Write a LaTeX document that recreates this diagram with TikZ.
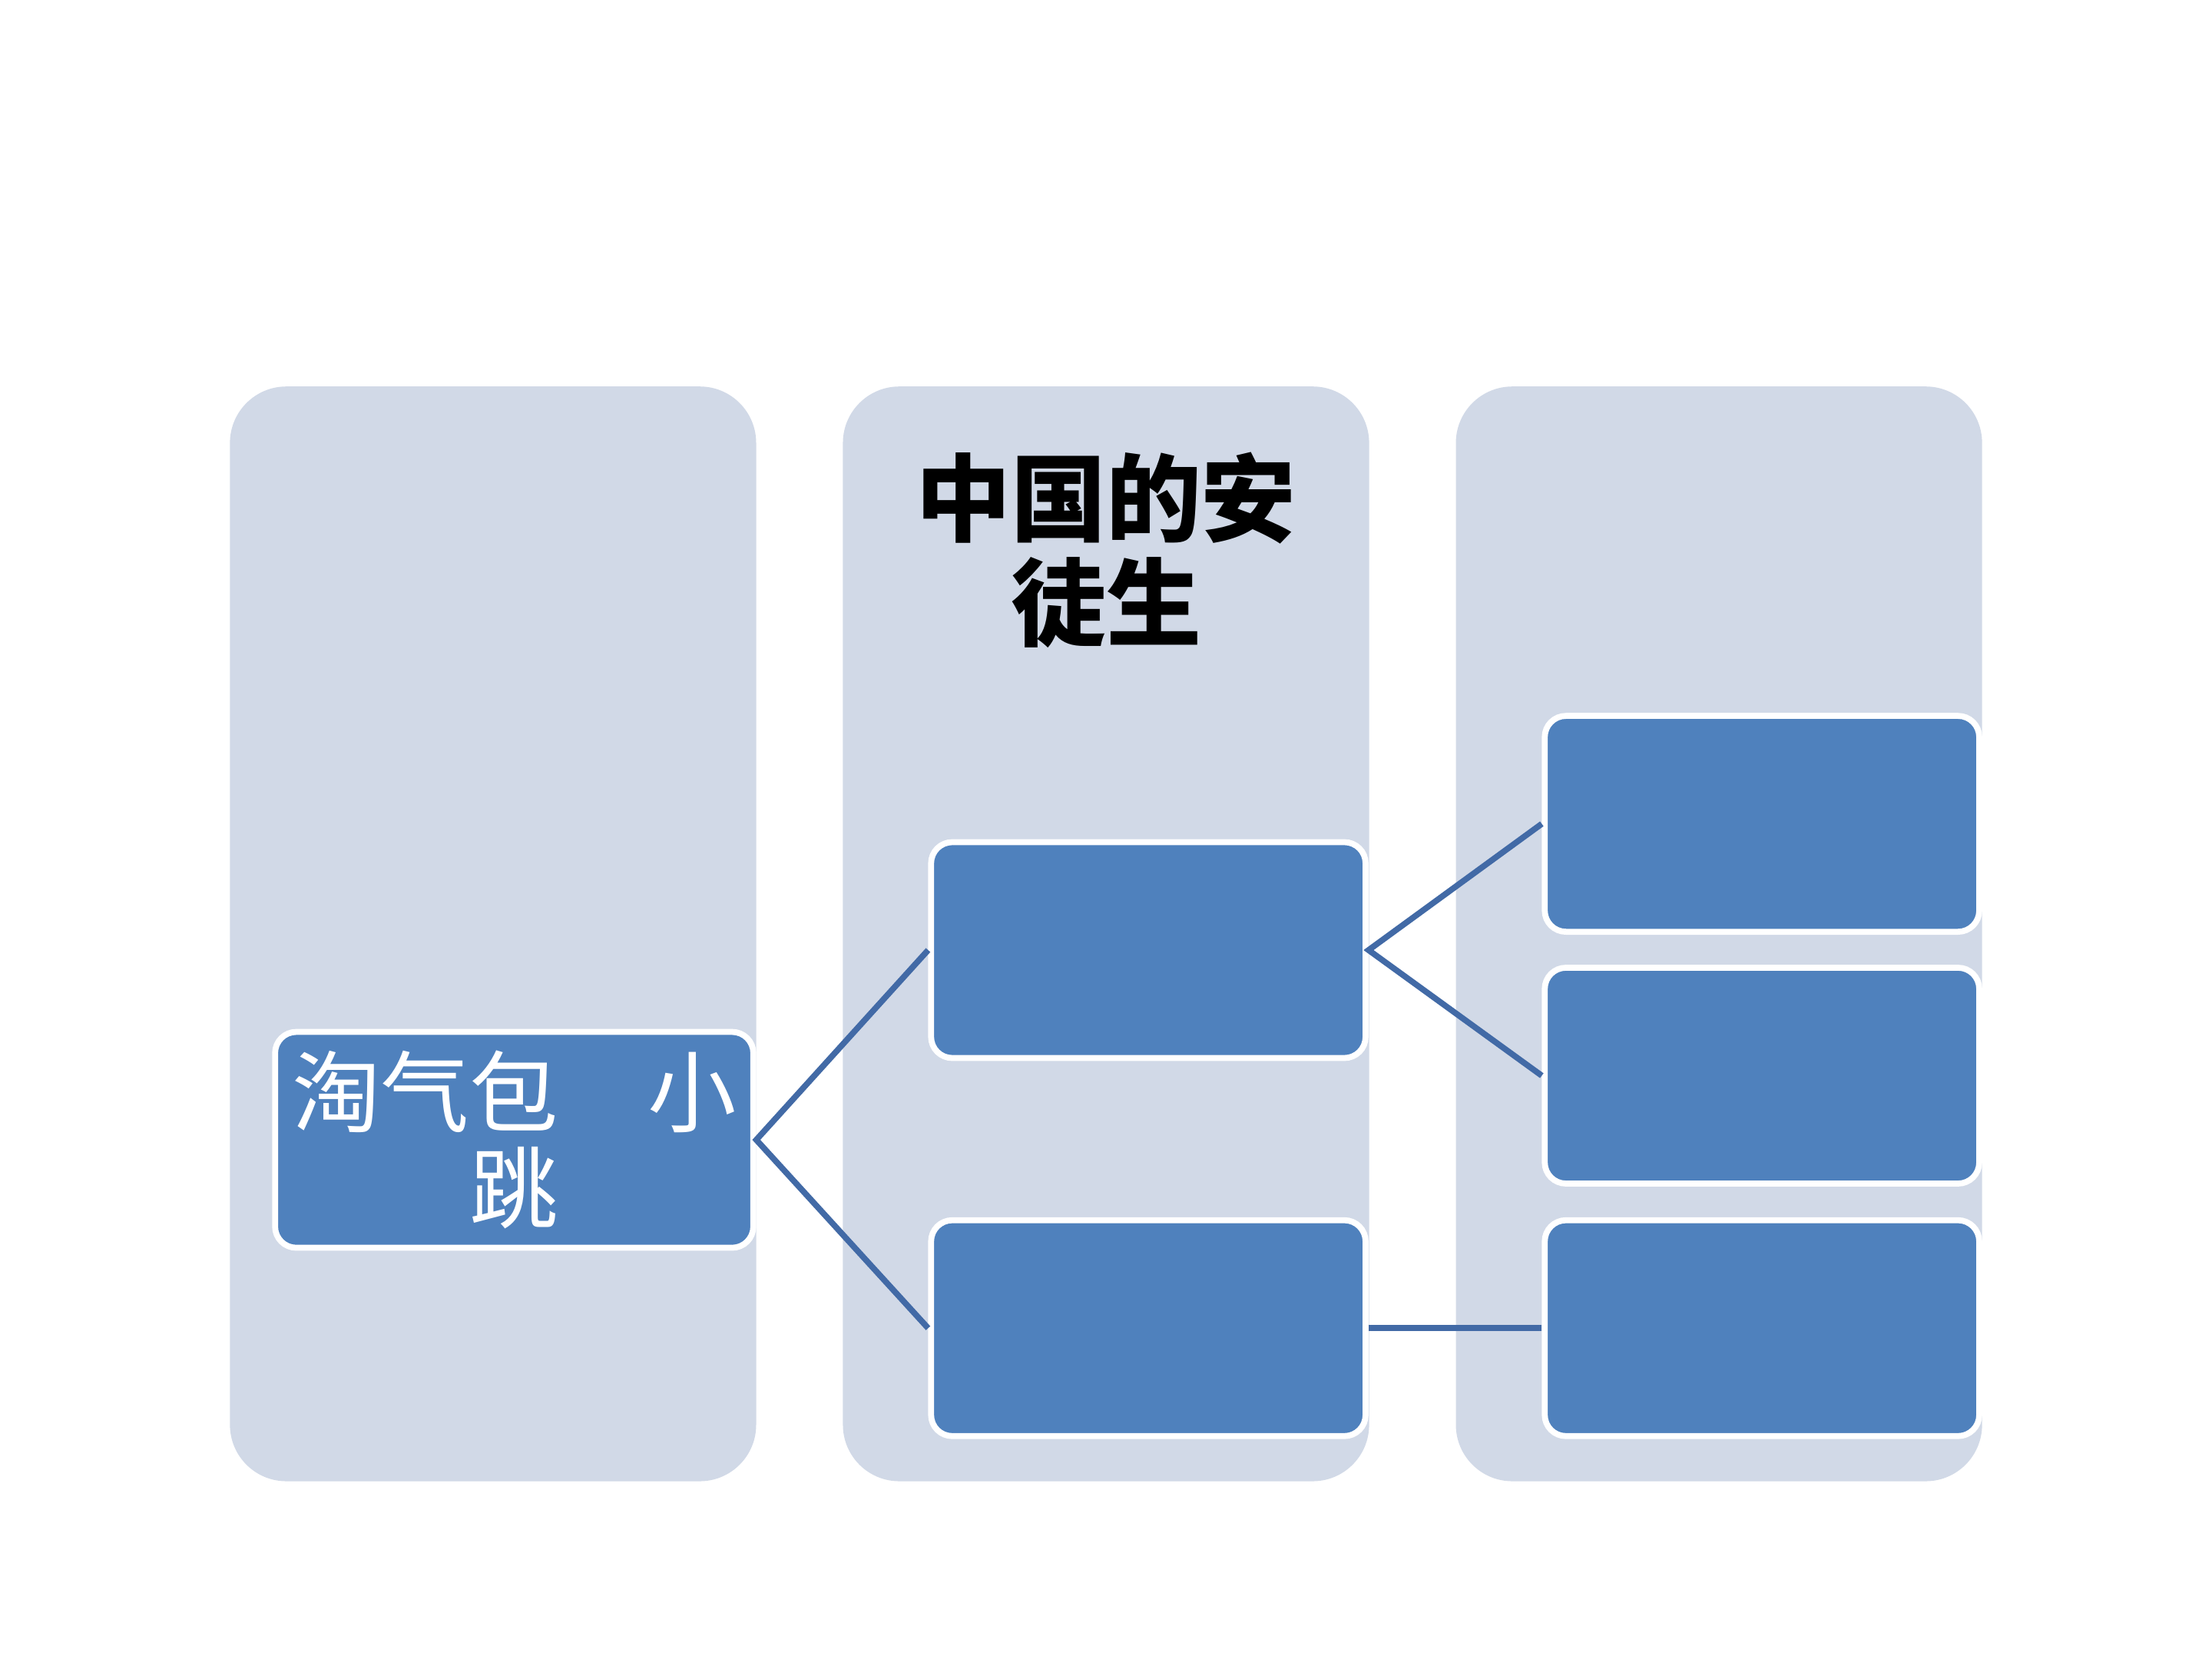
\documentclass[tikz,border=0pt]{standalone}
\usepackage{fontspec}
\newfontfamily\cjk{Noto Sans CJK SC}
\definecolor{colbg}{RGB}{209,217,231}
\definecolor{boxfill}{RGB}{79,129,189}
\definecolor{linkblue}{RGB}{66,106,166}
\tikzset{
  column/.style={fill=colbg, rounded corners=0.4cm, minimum width=3.73cm, minimum height=7.76cm, inner sep=0pt},
  item/.style={fill=boxfill, draw=white, line width=1.2pt, rounded corners=0.15cm, minimum width=3.08cm, minimum height=1.53cm, inner sep=0pt},
  link/.style={draw=linkblue, line width=1.2pt}
}
\begin{document}
\begin{tikzpicture}
\useasboundingbox[fill=white] (0,0) rectangle (15.68,11.76);
% columns
\node[column] (colA) at (3.495,5.14) {};
\node[column] (colB) at (7.84,5.14) {};
\node[column] (colC) at (12.185,5.14) {};
\node[font=\cjk\bfseries\fontsize{19.2}{21.2}\selectfont, align=center] (title) at (7.84,7.86) {中国的安\\徒生};
% boxes
\node[item, minimum width=3.39cm, text=white, align=center, font=\cjk\fontsize{17.9}{19.4}\selectfont] (root) at (3.645,3.68) {\makebox[3.15cm]{淘气包\hfill 小}\\跳};
\node[item] (midA) at (8.14,5.025) {};
\node[item] (midB) at (8.14,2.345) {};
\node[item] (leafA) at (12.49,5.92) {};
\node[item] (leafB) at (12.49,4.135) {};
\node[item] (leafC) at (12.49,2.345) {};
% links
\draw[link] (midA.west) -- (root.east) -- (midB.west);
\draw[link] (leafA.west) -- (midA.east) -- (leafB.west);
\draw[link] (midB.east) -- (leafC.west);
\end{tikzpicture}
\end{document}
